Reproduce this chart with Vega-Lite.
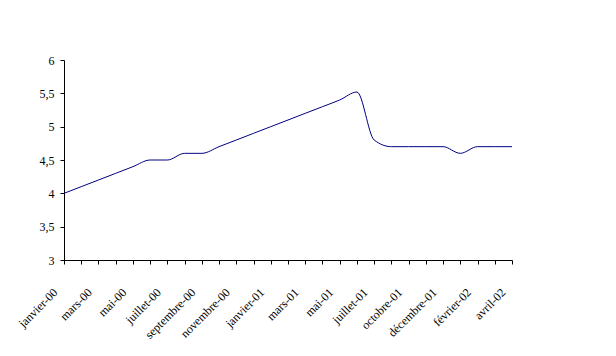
{
  "$schema": "https://vega.github.io/schema/vega-lite/v6.json",
  "autosize": "none",
  "padding": {"left": 64, "top": 60, "right": 104, "bottom": 96},
  "width": 448,
  "height": 200,
  "background": "white",
  "config": {"view": {"stroke": null}, "font": "Liberation Serif"},
  "data": {"values": [
    {"mois": "janvier-00", "valeur": 4.0},
    {"mois": "février-00", "valeur": 4.1},
    {"mois": "mars-00", "valeur": 4.2},
    {"mois": "avril-00", "valeur": 4.3},
    {"mois": "mai-00", "valeur": 4.4},
    {"mois": "juin-00", "valeur": 4.5},
    {"mois": "juillet-00", "valeur": 4.5},
    {"mois": "août-00", "valeur": 4.6},
    {"mois": "septembre-00", "valeur": 4.6},
    {"mois": "octobre-00", "valeur": 4.7},
    {"mois": "novembre-00", "valeur": 4.8},
    {"mois": "décembre-00", "valeur": 4.9},
    {"mois": "janvier-01", "valeur": 5.0},
    {"mois": "février-01", "valeur": 5.1},
    {"mois": "mars-01", "valeur": 5.2},
    {"mois": "avril-01", "valeur": 5.3},
    {"mois": "mai-01", "valeur": 5.4},
    {"mois": "juin-01", "valeur": 5.52},
    {"mois": "juillet-01", "valeur": 4.8},
    {"mois": "septembre-01", "valeur": 4.7},
    {"mois": "octobre-01", "valeur": 4.7},
    {"mois": "novembre-01", "valeur": 4.7},
    {"mois": "décembre-01", "valeur": 4.7},
    {"mois": "janvier-02", "valeur": 4.6},
    {"mois": "février-02", "valeur": 4.7},
    {"mois": "mars-02", "valeur": 4.7},
    {"mois": "avril-02", "valeur": 4.7}
  ]},
  "mark": {"type": "line", "color": "#000080", "strokeWidth": 1, "interpolate": "monotone"},
  "encoding": {
    "x": {
      "field": "mois", "type": "ordinal", "sort": null,
      "scale": {"type": "point", "padding": 0},
      "axis": {
        "title": null, "grid": false, "domainColor": "#000000", "tickColor": "#000000",
        "tickSize": 4, "labelAngle": -45, "labelAlign": "right", "labelBaseline": "middle",
        "labelFontSize": 12, "labelColor": "#000000", "labelPadding": 26, "labelOffset": -9,
        "labelExpr": "indexof(['janvier-00','mars-00','mai-00','juillet-00','septembre-00','novembre-00','janvier-01','mars-01','mai-01','juillet-01','octobre-01','décembre-01','février-02','avril-02'], datum.value) >= 0 ? datum.value : ''"
      }
    },
    "y": {
      "field": "valeur", "type": "quantitative",
      "scale": {"domain": [3, 6], "nice": false, "zero": false},
      "axis": {
        "title": null, "grid": false, "domainColor": "#000000", "tickColor": "#000000",
        "tickSize": 4, "values": [3, 3.5, 4, 4.5, 5, 5.5, 6],
        "labelFontSize": 12, "labelColor": "#000000", "labelPadding": 6,
        "labelExpr": "replace(toString(datum.value), '.', ',')"
      }
    }
  }
}
